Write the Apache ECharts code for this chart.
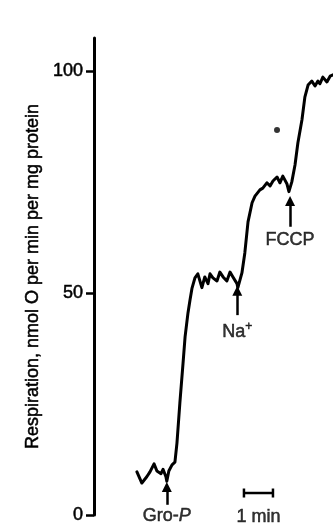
<!DOCTYPE html>
<html>
<head>
<meta charset="utf-8">
<script src="https://cdn.jsdelivr.net/npm/echarts@6/dist/echarts.min.js"></script>
<style>
  html, body { margin: 0; padding: 0; background: #fff; }
  #chart { width: 333px; height: 527px; }
</style>
</head>
<body>
<div id="chart"></div>
<script>
// Time (min) of trace points
var timeMin = [0, 0.17, 0.34, 0.45, 0.59, 0.69, 0.83, 0.90, 1.00, 1.03, 1.10, 1.21, 1.31,
  1.38, 1.48, 1.59, 1.66, 1.76, 1.83, 1.90, 2.00, 2.10, 2.24, 2.34, 2.45, 2.52, 2.62, 2.76,
  2.86, 2.97, 3.10, 3.21, 3.31, 3.45, 3.48, 3.62, 3.72, 3.83, 3.97, 4.07, 4.24, 4.34, 4.48,
  4.59, 4.69, 4.83, 4.93, 5.03, 5.17, 5.24, 5.34, 5.45, 5.55, 5.69, 5.79, 5.90, 6.03, 6.14,
  6.24, 6.31, 6.41, 6.55, 6.66, 6.76];
// Respiration, nmol O per min per mg protein
var respiration = [9.7, 7.2, 8.6, 9.7, 11.5, 9.9, 9.3, 10.3, 8.6, 7.6, 9.9, 11.3, 11.9,
  16.2, 25.2, 34.2, 40.1, 45.5, 48.4, 51.1, 53.4, 54.3, 51.2, 53.6, 52.1, 54.3, 53.4, 52.7,
  54.7, 53.6, 52.7, 54.7, 53.6, 52.1, 51.2, 54.5, 59.0, 66.0, 70.3, 71.8, 73.2, 73.6, 74.8,
  74.1, 75.2, 76.1, 74.8, 76.3, 74.6, 72.8, 75.0, 78.8, 83.8, 89.0, 94.1, 96.8, 97.7, 96.6,
  97.7, 97.1, 98.6, 97.5, 98.8, 99.1];
var yTicks = [0, 50, 100];
// Additions
var additionNames = ['Gro-P', 'Na+', 'FCCP'];
var additionTime = [1.03, 3.46, 5.28];
var arrowHead = [6.3, 50.5, 70.7];
var arrowTail = [2.3, 45.0, 64.9];
var labelValue = [-0.3, 41.2, 61.9];
// Isolated point
var dotTime = [4.83];
var dotValue = [86.7];
// Scale bar: 1 min
var scaleBarTime = [3.69, 4.69];
var scaleBarValue = [4.95, 4.95];
var scaleLabelTime = [4.19];
var scaleLabelValue = [-0.4];

var FONT = 'Liberation Sans';
var INK = '#000';
var TB = { textBorderColor: INK, textBorderWidth: 0.5 };
var chart = echarts.init(document.getElementById('chart'), null, { renderer: 'canvas' });

var trace = timeMin.map(function (t, i) { return [t, respiration[i]]; });
var arrows = additionTime.map(function (t, i) {
  return [{ coord: [t, arrowTail[i]], symbol: 'none' }, { coord: [t, arrowHead[i]], symbol: 'triangle' }];
});
var labels = additionTime.map(function (t, i) {
  var txt = additionNames[i];
  if (txt === 'Gro-P') txt = '{n|Gro-}{i|P}';
  else if (txt === 'Na+') txt = '{n|Na}{s|+}';
  else txt = '{n|' + txt + '}';
  return { value: [t, labelValue[i]], label: { formatter: txt } };
});
function fs(o) { return Object.assign({ fontFamily: FONT, color: INK }, TB, o); }

var option = {
  animation: false,
  backgroundColor: '#fff',
  grid: { left: 94, right: 0, top: 38, bottom: 12, containLabel: false },
  xAxis: {
    type: 'value', min: -1.48, max: 6.76,
    show: false
  },
  yAxis: {
    type: 'value', min: 0, max: 107.4,
    name: 'Respiration, nmol O per min per mg protein',
    nameLocation: 'middle', nameGap: 51,
    nameTextStyle: fs({ fontSize: 18 }),
    axisLine: { show: true, onZero: false, lineStyle: { color: INK, width: 3 } },
    axisTick: { show: true, length: 8, customValues: yTicks, lineStyle: { color: INK, width: 2.5 } },
    axisLabel: Object.assign({ customValues: yTicks, margin: 11 }, fs({ fontSize: 18 })),
    splitLine: { show: false }
  },
  series: [
    {
      type: 'line', data: trace, showSymbol: false, smooth: false, clip: false,
      lineStyle: { color: INK, width: 3, join: 'round', cap: 'round' },
      z: 3
    },
    {
      type: 'line', data: scaleBarTime.map(function (t, i) { return [t, scaleBarValue[i]]; }),
      symbol: 'rect', symbolSize: [2.5, 9], showSymbol: true, clip: false,
      itemStyle: { color: INK },
      lineStyle: { color: INK, width: 2.5 }
    },
    {
      type: 'scatter', data: dotTime.map(function (t, i) { return [t, dotValue[i]]; }),
      symbolSize: 6, itemStyle: { color: INK }, clip: false
    },
    {
      type: 'scatter', data: labels, symbolSize: 0, clip: false,
      label: {
        show: true, position: 'inside', color: INK,
        rich: {
          n: fs({ fontSize: 18 }),
          i: fs({ fontSize: 18, fontStyle: 'italic' }),
          s: fs({ fontSize: 12, padding: [0, 0, 10, 0] })
        }
      },
      markLine: {
        silent: true, symbolSize: [10, 10],
        label: { show: false },
        lineStyle: { color: INK, width: 2.5, type: 'solid' },
        data: arrows
      }
    },
    {
      type: 'scatter', data: scaleLabelTime.map(function (t, i) { return [t, scaleLabelValue[i]]; }),
      symbolSize: 0, clip: false,
      label: Object.assign({ show: true, position: 'inside', formatter: '1 min' }, fs({ fontSize: 18 }))
    }
  ]
};
chart.setOption(option);
</script>
</body>
</html>
